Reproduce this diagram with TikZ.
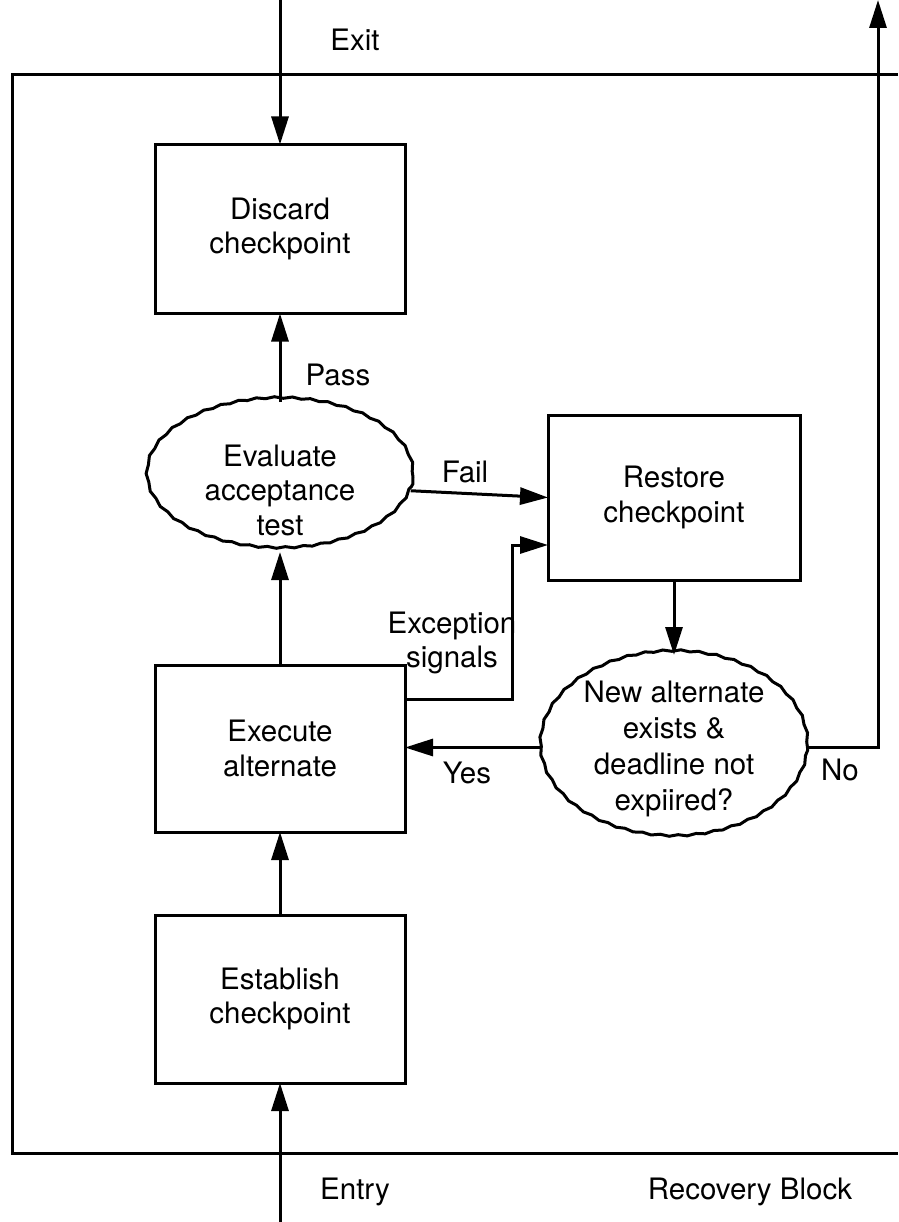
\documentclass[tikz,border=0pt]{standalone}
\usepackage{fontspec}
\setmainfont{TeX Gyre Heros}
\usetikzlibrary{shapes.geometric,arrows.meta,decorations.pathmorphing,calc}
\begin{document}
\begin{tikzpicture}[x=1pt,y=-1pt,
  every node/.style={font=\fontsize{29.5}{34.5}\selectfont},
  lw/.style={line width=3pt},
  boxnode/.style={draw,lw,rectangle,minimum width=250pt,align=center,inner sep=0pt,outer sep=0pt},
  wavy/.style={draw,lw,ellipse,inner sep=0pt,outer sep=0pt,decorate,
     decoration={snake,segment length=18pt,amplitude=0.8pt}},
  arr/.style={lw,-{Triangle[length=28pt,width=17pt]}},
  plain/.style={lw},
  lbl/.style={align=center,inner sep=0pt}]
\useasboundingbox (0,0) rectangle (898,1222);
% frame
\draw[plain] (898,75) -- (12,75) -- (12,1153) -- (898,1153);
% boxes
\node[boxnode,minimum height=169pt] (discard) at (280,229) {Discard\\checkpoint};
\node[boxnode,minimum width=252pt,minimum height=165pt] (restore) at (674,497.5) {Restore\\checkpoint};
\node[boxnode,minimum height=167pt] (execute) at (280,748.5) {Execute\\alternate};
\node[boxnode,minimum height=168pt] (establish) at (280,999) {Establish\\checkpoint};
% wavy ellipses
\node[wavy,minimum width=266pt,minimum height=150pt] (eval) at (280,477) {};
\node[lbl] (evaltxt) at (280,490) {Evaluate\\acceptance\\test};
\node[wavy,minimum width=267pt,minimum height=185pt] (newalt) at (674,747.5) {};
\node[lbl,font=\fontsize{29.5}{36}\selectfont] (newalttxt) at (674,749) {New alternate\\exists \&\\deadline not\\expiired?};
% coordinates
\coordinate (exitTop) at (280,0);
\coordinate (entryBot) at (280,1222);
\coordinate (noTop) at (878,0);
\coordinate (exc) at (512,699);
% connectors
\draw[arr] (exitTop) -- (discard.north);
\draw[arr] (eval.north) -- (discard.south);
\draw[arr] (eval.-6.4) -- (restore.west);
\draw[arr] ([yshift=49.5pt]execute.east) -- (exc) |- ([yshift=-47.5pt]restore.west);
\draw[arr] (restore.south) -- (newalt.north);
\draw[arr] (newalt.west) -- (newalt.west -| execute.east);
\draw[arr] (newalt.east) -| (noTop);
\draw[arr] (execute.north) -- (eval.south);
\draw[arr] (establish.north) -- (execute.south);
\draw[arr] (entryBot) -- (establish.south);
% labels
\node[lbl] (exitlbl) at (355,40) {Exit};
\node[lbl] (passlbl) at (338,375) {Pass};
\node[lbl] (faillbl) at (465,472) {Fail};
\node[lbl] (exclbl) at (452,643) {Exception\\signals};
\node[lbl] (yeslbl) at (467,773) {Yes};
\node[lbl] (nolbl) at (840,770) {No};
\node[lbl] (entrylbl) at (355,1192) {Entry};
\node[lbl] (rblbl) at (750,1192) {Recovery Block};
\end{tikzpicture}
\end{document}
